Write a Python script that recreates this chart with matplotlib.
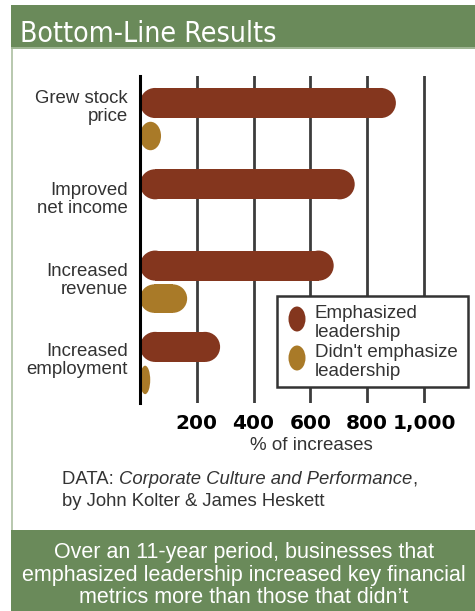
import matplotlib.pyplot as plt
from matplotlib.patches import Rectangle, Ellipse
from matplotlib import font_manager
import numpy as np

categories = ['Grew stock\nprice', 'Improved\nnet income', 'Increased\nrevenue', 'Increased\nemployment']
emphasized = [901, 756, 682, 282]
not_emphasized = [74, 1, 166, 36]
xticks = [200, 400, 600, 800, 1000]
xtick_labels = ['200', '400', '600', '800', '1,000']
legend_labels = ['Emphasized\nleadership', "Didn't emphasize\nleadership"]

RED = '#84361e'
GOLD = '#a97a28'
GREEN = '#6a8a5a'
SANS = ['Liberation Sans', 'DejaVu Sans']

W, H = 475, 611
fig = plt.figure(figsize=(W / 100, H / 100), dpi=100)
fig.patch.set_facecolor('white')

def fx(px):
    return px / W

def fy(py):
    return 1 - py / H

# look for a narrow / condensed face for the title
title_font = None
for f in font_manager.fontManager.ttflist:
    n = f.name.lower()
    if ('narrow' in n or 'condensed' in n or 'condensed' in str(f.stretch)) and f.style == 'normal':
        title_font = f.fname
        if f.weight in ('normal', 400, 'regular', 500, 'medium'):
            break

# header / footer bands and panel border
fig.add_artist(Rectangle((fx(11), fy(48)), fx(464), 43 / H, transform=fig.transFigure,
                         facecolor=GREEN, edgecolor='none'))
fig.add_artist(Rectangle((fx(11), fy(49)), fx(464), 1.5 / H, transform=fig.transFigure,
                         facecolor='#9fb593', edgecolor='none'))
fig.add_artist(Rectangle((fx(11), fy(611)), fx(464), 81 / H, transform=fig.transFigure,
                         facecolor=GREEN, edgecolor='none'))
fig.add_artist(Rectangle((fx(11), fy(530)), fx(1.5), 481 / H, transform=fig.transFigure,
                         facecolor='#b9c9b0', edgecolor='none'))

r = fig.canvas.get_renderer()
if title_font is not None:
    tt = fig.text(fx(20), fy(42), 'Bottom-Line Results', color='white', fontsize=25,
                  fontproperties=font_manager.FontProperties(fname=title_font, size=25),
                  va='baseline', ha='left')
else:
    tt = fig.text(fx(20), fy(42), 'Bottom-Line Results', color='white', fontsize=25,
                  family=['Roboto', 'DejaVu Sans'], va='baseline', ha='left')
# keep the title about as wide as the original
tw = tt.get_window_extent(renderer=r).width
if tw > 262:
    tt.set_fontsize(25 * 257 / tw)

# main axes
x0, x1 = 140, 140 + 0.284 * 1100
ax = fig.add_axes([fx(x0), fy(403), (x1 - x0) / W, (403 - 76) / H])
ax.set_xlim(0, 1100)
ax.set_ylim(3.487, -0.535)
ax.set_facecolor('none')
for s in ['top', 'right', 'bottom']:
    ax.spines[s].set_visible(False)
ax.spines['left'].set_linewidth(2.2)
ax.spines['left'].set_color('black')
ax.spines['left'].set_zorder(5)

ax.set_xticks(xticks)
ax.set_xticklabels(xtick_labels, fontweight='bold', fontsize=14.5, family='DejaVu Sans')
ax.tick_params(axis='x', length=0, pad=8)
ax.set_yticks([])
ax.grid(axis='x', color='#3c3c3c', linewidth=2)
ax.set_axisbelow(True)

# pixel scales for rounded bars
p = ax.transData.transform([[0, 0], [1, 1]])
sx = abs(p[1, 0] - p[0, 0])
sy = abs(p[1, 1] - p[0, 1])

def rounded_bar(v, yc, h, color):
    rx = (h * sy / 2) / sx
    if v >= 2 * rx:
        ax.add_patch(Rectangle((rx, yc - h / 2), v - 2 * rx, h, facecolor=color, edgecolor='none', zorder=3))
        ax.add_patch(Ellipse((rx, yc), 2 * rx, h, facecolor=color, edgecolor='none', zorder=3))
        ax.add_patch(Ellipse((v - rx, yc), 2 * rx, h, facecolor=color, edgecolor='none', zorder=3))
    else:
        ax.add_patch(Ellipse((v / 2, yc), v, h, facecolor=color, edgecolor='none', zorder=3))

y = np.arange(len(categories))
for i in range(len(categories)):
    rounded_bar(emphasized[i], y[i] - 0.203, 0.37, RED)
    rounded_bar(not_emphasized[i], y[i] + 0.203, 0.35, GOLD)

label_offsets = [-0.15, -0.02, -0.02, -0.04]
for i, lab in enumerate(categories):
    ax.text(-12 / 0.284, y[i] + label_offsets[i], lab, ha='right', va='center',
            fontsize=13.4, color='#333333', family=SANS, linespacing=1.08)

fig.text(fx(311), fy(446), '% of increases', ha='center', va='center',
         fontsize=13.5, color='#333333', family=SANS)

# legend
fig.add_artist(Rectangle((fx(277), fy(387)), fx(191), 91 / H, transform=fig.transFigure,
                         facecolor='white', edgecolor='#333333', linewidth=1.8, zorder=6))
leg_colors = [RED, GOLD]
leg_y = [319, 358]
for c, ly, lab in zip(leg_colors, leg_y, legend_labels):
    fig.add_artist(Ellipse((fx(297), fy(ly)), fx(17), 25 / H, transform=fig.transFigure,
                           facecolor=c, edgecolor='none', zorder=7))
    fig.text(fx(315), fy(ly + 4), lab, ha='left', va='center', fontsize=13.5,
             color='#333333', family=SANS, linespacing=1.1, zorder=7)

# source note
t1 = fig.text(fx(62), fy(480), 'DATA: ', ha='left', va='center', fontsize=13.3,
              color='#333333', family=SANS)
bb = t1.get_window_extent(renderer=r)
t2 = fig.text(bb.x1 / W, fy(480), 'Corporate Culture and Performance', ha='left', va='center',
              fontsize=13.3, color='#333333', family=SANS, style='italic')
bb2 = t2.get_window_extent(renderer=r)
fig.text(bb2.x1 / W, fy(480), ',', ha='left', va='center', fontsize=13.3,
         color='#333333', family=SANS)
fig.text(fx(62), fy(502), 'by John Kolter & James Heskett', ha='left', va='center',
         fontsize=13.3, color='#333333', family=SANS)

fig.text(fx(244), fy(575), 'Over an 11-year period, businesses that\n'
         'emphasized leadership increased key financial\n'
         'metrics more than those that didn\u2019t', ha='center', va='center',
         fontsize=15.5, color='white', family=SANS, linespacing=1.12)

fig.savefig('out.png', dpi=100)
